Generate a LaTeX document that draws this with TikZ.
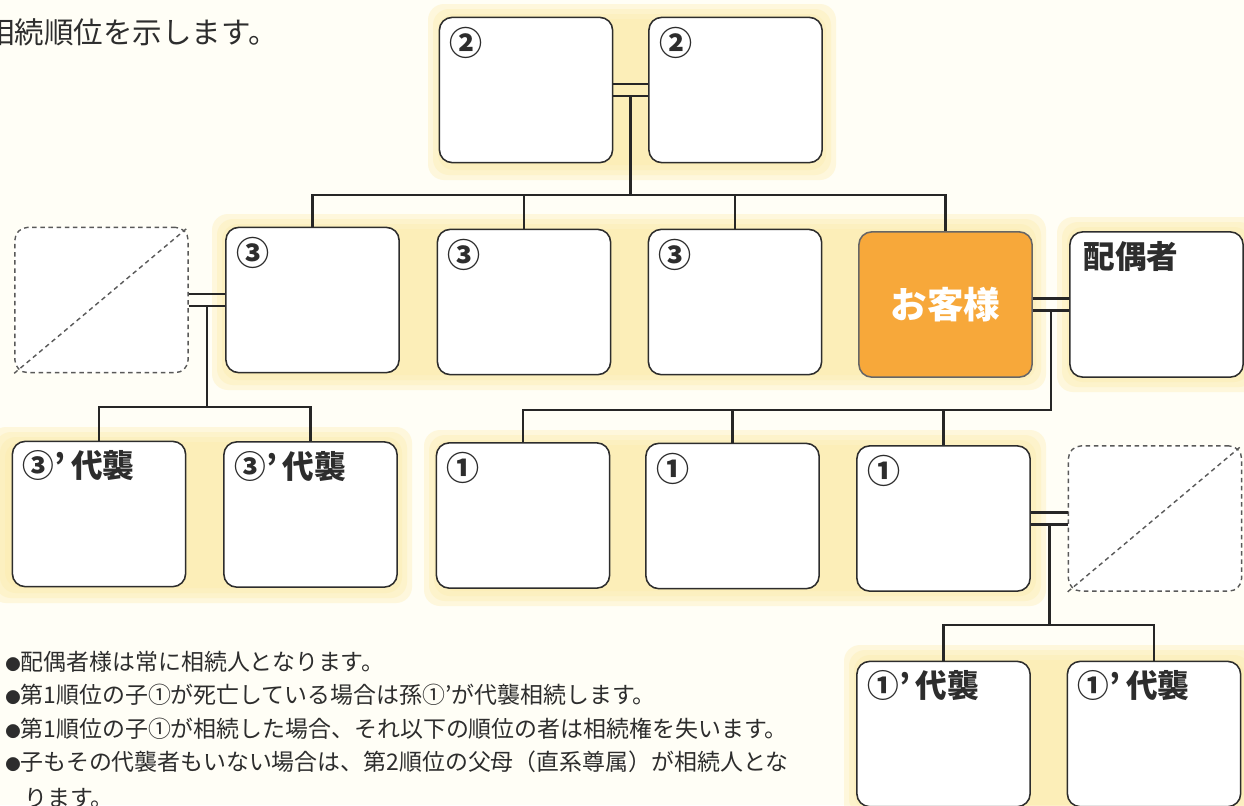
\documentclass[tikz,border=0pt]{standalone}
\usepackage{fontspec}
\newfontfamily\jp{Noto Sans CJK JP}
\usetikzlibrary{calc}

\definecolor{bgcol}{RGB}{255,254,246}
\definecolor{glowcol}{RGB}{252,235,170}
\definecolor{selfcol}{RGB}{247,168,58}
\definecolor{inkcol}{RGB}{45,45,45}

% soft yellow patch behind a group of boxes
\newcommand{\glowpatch}[4]{%
  \foreach \k in {0,1,2,3}{%
    \fill[glowcol, opacity=0.33, rounded corners=0.4cm] (#1+\k*5,#2+\k*5) rectangle (#3-\k*5,#4-\k*5);}}
\newcommand{\notedot}{{\fontsize{11}{11}\selectfont ●}}

\begin{document}
\begin{tikzpicture}[x=0.025cm, y=-0.025cm,
    box/.style={rectangle, draw=inkcol, line width=1.1pt, fill=white, rounded corners=0.32cm, minimum width=4.33cm, minimum height=3.63cm},
    gone/.style={box, draw=black!65, dash pattern=on 3.2pt off 2.6pt, line width=1pt},
    self/.style={box, fill=selfcol, draw=black!60, text=white, font=\jp\bfseries\fontsize{26}{26}\selectfont},
    tag/.style={anchor=north west, inner sep=0pt, font=\jp\bfseries\fontsize{23.5}{23.5}\selectfont, text=inkcol},
    heir/.style={tag, font=\jp\bfseries\fontsize{22.5}{22.5}\selectfont},
    line/.style={draw=black!85, line width=2pt},
    note/.style={anchor=west, inner sep=0pt, font=\jp\fontsize{16.3}{16.3}\selectfont, text=inkcol}
]
\useasboundingbox[fill=bgcol] (0,0) rectangle (1244,805);

\glowpatch{428}{4}{836}{180}
\glowpatch{212}{214}{1046}{390}
\glowpatch{1057}{217}{1260}{392}
\glowpatch{-10}{427}{412}{603}
\glowpatch{424}{430}{1046}{606}
\glowpatch{844}{645}{1260}{820}

% parents
\node[box] (par1) at (526,90) {};
\node[box] (par2) at (735.5,90) {};
% siblings, client, spouse
\node[gone] (exsib) at (101.5,300) {};
\node[box] (sib1) at (312.5,300) {};
\node[box] (sib2) at (524,302) {};
\node[box] (sib3) at (735,302) {};
\node[self] (me) at (945.5,304.5) {お客様};
\node[box] (spouse) at (1156.5,304.5) {};
% nephews, children
\node[box] (nep1) at (99,514) {};
\node[box] (nep2) at (310.5,514.5) {};
\node[box] (ch1) at (523,515.5) {};
\node[box] (ch2) at (732.5,516) {};
\node[box] (ch3) at (943.5,518.5) {};
\node[gone] (exchild) at (1155,518.5) {};
% grandchildren
\node[box] (gch1) at (943.5,734) {};
\node[box] (gch2) at (1154,734) {};

\draw[black!65, dash pattern=on 3.2pt off 2.6pt, line width=1pt] (exsib.south west) -- (exsib.north east);
\draw[black!65, dash pattern=on 3.2pt off 2.6pt, line width=1pt] (exchild.south west) -- (exchild.north east);

% labels
\node[tag] (par1t) at ([shift={(11,10)}]par1.north west) {②};
\node[tag] (par2t) at ([shift={(11,10)}]par2.north west) {②};
\node[tag] (sib1t) at ([shift={(11,10)}]sib1.north west) {③};
\node[tag] (sib2t) at ([shift={(11,10)}]sib2.north west) {③};
\node[tag] (sib3t) at ([shift={(11,10)}]sib3.north west) {③};
\node[heir] (spouset) at ([shift={(14,10)}]spouse.north west) {配偶者};
\node[heir] (nep1t) at ([shift={(11,10)}]nep1.north west) {③’\hspace{4pt}代襲};
\node[heir] (nep2t) at ([shift={(11,10)}]nep2.north west) {③’\hspace{4pt}代襲};
\node[tag] (ch1t) at ([shift={(11,10)}]ch1.north west) {①};
\node[tag] (ch2t) at ([shift={(11,10)}]ch2.north west) {①};
\node[tag] (ch3t) at ([shift={(11,10)}]ch3.north west) {①};
\node[heir] (gch1t) at ([shift={(11,10)}]gch1.north west) {①’\hspace{4pt}代襲};
\node[heir] (gch2t) at ([shift={(11,10)}]gch2.north west) {①’\hspace{4pt}代襲};

% marriages
\foreach \a/\b in {par1/par2, exsib/sib1, me/spouse, ch3/exchild} {
  \draw[line] ([shift={(0,-6)}]\a.east) -- ([shift={(0,-6)}]\b.west);
  \draw[line] ([shift={(0,6)}]\a.east) -- ([shift={(0,6)}]\b.west);
}
\coordinate (parj) at ($(par1.east)!0.5!(par2.west)+(0,6)$);
\coordinate (exj) at ($(exsib.east)!0.5!(sib1.west)+(0,6)$);
\coordinate (mej) at ($(me.east)!0.5!(spouse.west)+(0,6)$);
\coordinate (chj) at ($(ch3.east)!0.5!(exchild.west)+(0,6)$);
\coordinate (sibbar) at (0,195);
\coordinate (nepbar) at (0,407);
\coordinate (chbar) at (0,410);
\coordinate (gchbar) at (0,625);

% descent lines
\draw[line] (parj) -- (parj |- sibbar);
\draw[line] (sib1.north) |- (sibbar -| me) -- (me.north);
\foreach \n in {sib2,sib3} \draw[line] (\n.north) -- (\n |- sibbar);
\draw[line] (exj) -- (exj |- nepbar);
\draw[line] (nep1.north) |- (nepbar -| nep2) -- (nep2.north);
\draw[line] (mej) -- (mej |- chbar) -| (ch1.north);
\foreach \n in {ch2,ch3} \draw[line] (\n.north) -- (\n |- chbar);
\draw[line] (chj) -- (chj |- gchbar);
\draw[line] (gch1.north) |- (gchbar -| gch2) -- (gch2.north);

% texts
\node[anchor=west, inner sep=0pt, font=\jp\fontsize{21}{21}\selectfont, text=inkcol] (title) at (-15,32) {相続順位を示します。};
\node[note] (note1) at (5,662) {\notedot 配偶者様は常に相続人となります。};
\node[note] (note2) at (5,695) {\notedot 第1順位の子①が死亡している場合は孫①’が代襲相続します。};
\node[note] (note3) at (5,729) {\notedot 第1順位の子①が相続した場合、それ以下の順位の者は相続権を失います。};
\node[note] (note4) at (5,762) {\notedot 子もその代襲者もいない場合は、第2順位の父母（直系尊属）が相続人とな};
\node[note] (note5) at (24,798) {ります。};
\end{tikzpicture}
\end{document}
